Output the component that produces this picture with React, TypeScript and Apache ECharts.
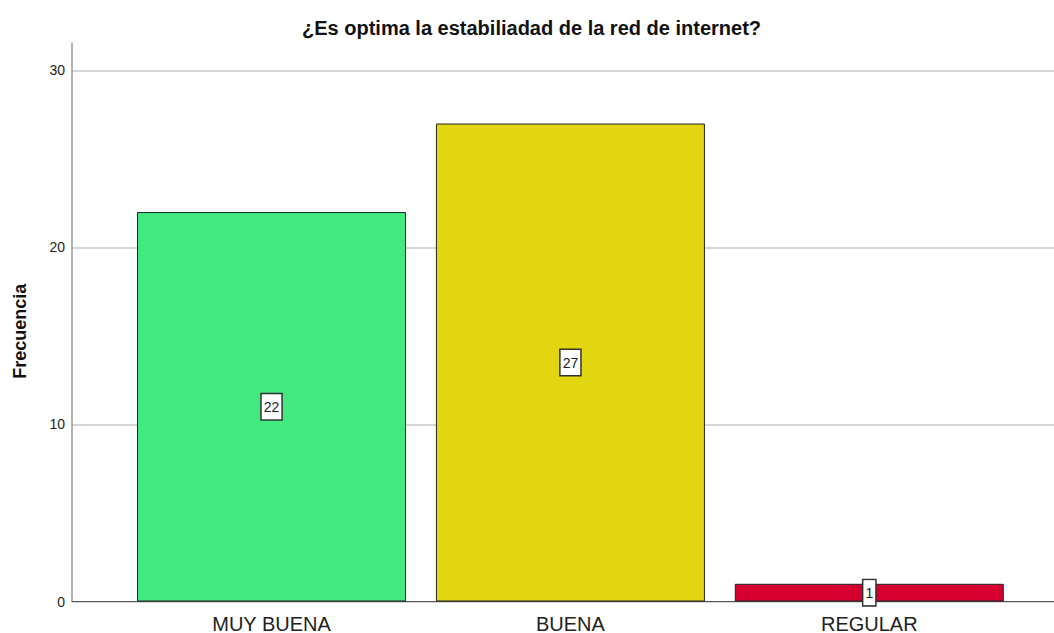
import React, { useEffect, useRef } from "react";
import * as echarts from "echarts";

const titleText = "¿Es optima la estabiliadad de la red de internet?";
const categories = ["MUY BUENA", "BUENA", "REGULAR"];
const frequencies = [22, 27, 1];
const barColors = ["#42E97F", "#E2D70F", "#D6002E"];
const yTicks = [0, 10, 20, 30];

export default function App() {
  const ref = useRef<HTMLDivElement>(null);
  useEffect(() => {
    const chart = echarts.init(ref.current!, null, { renderer: "svg" });
    chart.setOption({
      animation: false,
      backgroundColor: "#ffffff",
      title: {
        text: titleText,
        left: 297,
        top: 13,
        textStyle: { fontFamily: "Liberation Sans", fontSize: 20, fontWeight: "bold", color: "#111" },
      },
      grid: { left: 72, right: 0, top: 43, bottom: 31.5, containLabel: false, outerBoundsMode: "none" },
      xAxis: {
        type: "value",
        min: -0.6676,
        max: 2.618,
        splitLine: { show: false },
        axisTick: { show: false },
        axisLine: { show: true, onZero: false, lineStyle: { color: "#555", width: 1 } },
        axisLabel: {
          customValues: [0, 1, 2],
          formatter: (v: number) => categories[Math.round(v)] ?? "",
          fontFamily: "Liberation Sans",
          fontSize: 20,
          color: "#222",
          margin: 12,
        },
      },
      yAxis: {
        type: "value",
        min: 0,
        max: 31.55,
        interval: 10,
        name: "Frecuencia",
        nameLocation: "middle",
        nameGap: 43,
        nameTextStyle: {
          fontFamily: "Liberation Sans",
          fontSize: 18,
          fontWeight: "bold",
          color: "#111",
          padding: [0, 18, 0, 0],
        },
        axisLine: { show: true, onZero: false, lineStyle: { color: "#999", width: 1.5 } },
        axisTick: { show: false },
        axisLabel: {
          customValues: yTicks,
          fontFamily: "Liberation Sans",
          fontSize: 14,
          color: "#222",
          margin: 7,
        },
        splitLine: { show: true, showMaxLine: false, lineStyle: { color: "#c8c8c8", width: 1.5 } },
      },
      series: [
        {
          type: "bar",
          barWidth: 269,
          data: frequencies.map((v, i) => ({
            value: [i, v],
            itemStyle: { color: barColors[i], borderColor: "#222", borderWidth: 1 },
          })),
          label: {
            show: true,
            position: "inside",
            formatter: (p: any) => String(p.value[1]),
            fontFamily: "Liberation Sans",
            fontSize: 14,
            color: "#222",
            backgroundColor: "#ffffff",
            borderColor: "#333",
            borderWidth: 1.5,
            padding: [7, 2, 4, 2],
          },
        },
      ],
    });
    return () => chart.dispose();
  }, []);
  return (
    <div
      ref={ref}
      style={{ position: "fixed", left: 0, top: 0, width: 1054, height: 633 }}
    />
  );
}
